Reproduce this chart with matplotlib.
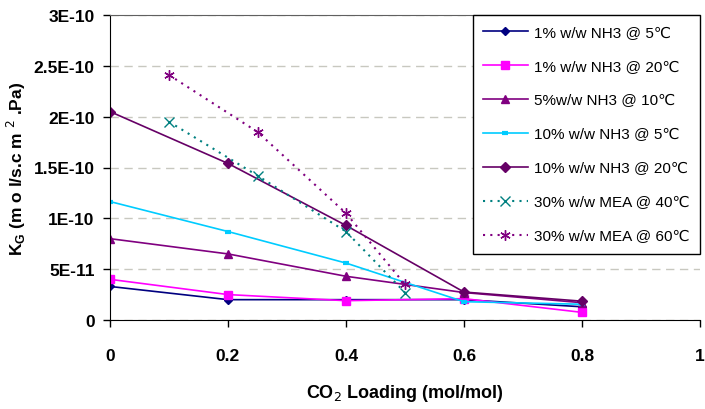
import matplotlib.pyplot as plt
import numpy as np

x_nh3 = [0, 0.2, 0.4, 0.6, 0.8]
kg_1pct_5c = [3.3e-11, 2.0e-11, 2.0e-11, 2.0e-11, 1.3e-11]
kg_1pct_20c = [4.0e-11, 2.5e-11, 1.9e-11, 2.1e-11, 0.75e-11]
kg_5pct_10c = [8.0e-11, 6.5e-11, 4.3e-11, 2.7e-11, 1.7e-11]
kg_10pct_5c = [11.65e-11, 8.7e-11, 5.6e-11, 1.8e-11, 1.55e-11]
kg_10pct_20c = [20.5e-11, 15.4e-11, 9.3e-11, 2.75e-11, 1.85e-11]

x_mea = [0.1, 0.25, 0.4, 0.5]
kg_mea_40c = [19.5e-11, 14.2e-11, 8.7e-11, 2.7e-11]
kg_mea_60c = [24.1e-11, 18.5e-11, 10.5e-11, 3.5e-11]

labels = ["1% w/w NH3 @ 5\u2103", "1% w/w NH3 @ 20\u2103", "5%w/w NH3 @ 10\u2103",
          "10% w/w NH3 @ 5\u2103", "10% w/w NH3 @ 20\u2103",
          "30% w/w MEA @ 40\u2103", "30% w/w MEA @ 60\u2103"]

plt.rcParams['font.family'] = ['Liberation Sans', 'DejaVu Sans']

fig = plt.figure(figsize=(7.05, 4.10), dpi=100)
ax = fig.add_axes([110/705, 1 - 321/410, 590/705, 305/410])

ax.plot(x_nh3, kg_1pct_5c, color='#000080', marker='D', markersize=4.5, lw=1.2, label=labels[0])
ax.plot(x_nh3, kg_1pct_20c, color='#FF00FF', marker='s', markersize=5.5, lw=1.2, label=labels[1])
ax.plot(x_nh3, kg_5pct_10c, color='#800080', marker='^', markersize=6, lw=1.2, label=labels[2])
ax.plot(x_nh3, kg_10pct_5c, color='#00CCFF', marker='_', markersize=5, mew=3, lw=1.2, label=labels[3])
ax.plot(x_nh3, kg_10pct_20c, color='#660066', marker='D', markersize=5.5, lw=1.2, label=labels[4])
ax.plot(x_mea, kg_mea_40c, color='#008080', marker='x', markersize=6.5, lw=1.5,
        linestyle=(0, (1, 2.5)), label=labels[5])
ax.plot(x_mea, kg_mea_60c, color='#800080', marker=(6, 2, 0), markersize=7.5, lw=1.5,
        linestyle=(0, (1, 2.5)), label=labels[6])

ax.set_xlim(0, 1)
ax.set_ylim(0, 3e-10)
ax.set_xticks([0, 0.2, 0.4, 0.6, 0.8, 1])
ax.set_xticklabels(['0', '0.2', '0.4', '0.6', '0.8', '1'])
yt = np.arange(0, 3.01e-10, 0.5e-10)
ax.set_yticks(yt)
ax.set_yticklabels(['0', '5E-11', '1E-10', '1.5E-10', '2E-10', '2.5E-10', '3E-10'])
ax.tick_params(axis='both', direction='out', length=5, labelsize=12.5, width=1)
ax.tick_params(axis='x', pad=15)
ax.tick_params(axis='y', pad=6)
for lab in ax.get_xticklabels() + ax.get_yticklabels():
    lab.set_fontweight('bold')

ax.grid(axis='y', linestyle=(0, (6, 4)), color='#c8c8c0', lw=1)
ax.set_axisbelow(True)
ax.spines['left'].set_color('black')
ax.spines['bottom'].set_color('black')
ax.spines['top'].set_color('#606060')
ax.spines['right'].set_visible(False)

ax.set_xlabel('CO$_2$ Loading (mol/mol)', fontsize=13, fontweight='bold', labelpad=14)
ax.set_ylabel('K$_\\mathregular{G}$ (m o l/s.c m $^2$ .Pa)', fontsize=12.5, fontweight='bold')
ax.yaxis.set_label_coords(-82/590, 0.5)

leg = ax.legend(loc='upper right', bbox_to_anchor=(1.0, 1.0), borderaxespad=0, fontsize=11,
                frameon=True, fancybox=False, edgecolor='black', framealpha=1,
                handlelength=2.9, labelspacing=1.3, borderpad=0.7, handletextpad=0.4)
leg.get_frame().set_linewidth(1)

fig.savefig('out.png', dpi=100)
